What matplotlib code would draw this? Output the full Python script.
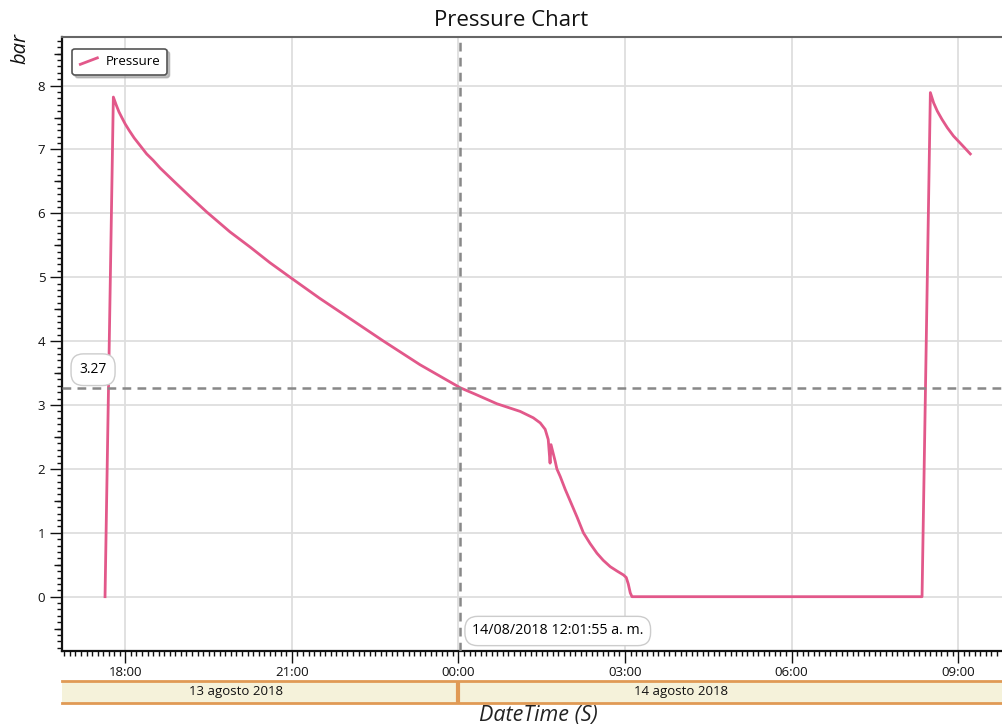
import matplotlib
matplotlib.use("Agg")
import matplotlib.pyplot as plt
import matplotlib.dates as mdates
from matplotlib.ticker import MultipleLocator
from matplotlib.legend_handler import HandlerBase
from matplotlib.lines import Line2D
import pandas as pd
import numpy as np

plt.rcParams['font.family'] = ['Open Sans', 'DejaVu Sans']

# ---- data ----
times = [
    "2018-08-13 17:38:00", "2018-08-13 17:47:00", "2018-08-13 17:50:00", "2018-08-13 17:53:00",
    "2018-08-13 17:56:30", "2018-08-13 17:59:45", "2018-08-13 18:04:00", "2018-08-13 18:09:30",
    "2018-08-13 18:16:00", "2018-08-13 18:23:00", "2018-08-13 18:30:00", "2018-08-13 18:37:30",
    "2018-08-13 18:54:00", "2018-08-13 19:10:00", "2018-08-13 19:28:00", "2018-08-13 19:53:00",
    "2018-08-13 20:15:00", "2018-08-13 20:36:00", "2018-08-13 20:58:00", "2018-08-13 21:30:00",
    "2018-08-13 22:03:00", "2018-08-13 22:39:00", "2018-08-13 23:18:30", "2018-08-14 00:01:55",
    "2018-08-14 00:18:00", "2018-08-14 00:41:30", "2018-08-14 01:06:40", "2018-08-14 01:20:50",
    "2018-08-14 01:28:20", "2018-08-14 01:33:40", "2018-08-14 01:37:00", "2018-08-14 01:39:00",
    "2018-08-14 01:40:00", "2018-08-14 01:44:30", "2018-08-14 01:46:20", "2018-08-14 01:50:00",
    "2018-08-14 01:55:20", "2018-08-14 02:00:40", "2018-08-14 02:08:20", "2018-08-14 02:15:00",
    "2018-08-14 02:22:20", "2018-08-14 02:29:40", "2018-08-14 02:36:25", "2018-08-14 02:44:00",
    "2018-08-14 02:51:30", "2018-08-14 02:58:20", "2018-08-14 03:01:20", "2018-08-14 03:03:30",
    "2018-08-14 03:05:40", "2018-08-14 03:07:30", "2018-08-14 08:21:00", "2018-08-14 08:30:00",
    "2018-08-14 08:33:30", "2018-08-14 08:37:30", "2018-08-14 08:42:35", "2018-08-14 08:48:20",
    "2018-08-14 08:55:00", "2018-08-14 09:03:30", "2018-08-14 09:13:10",
]
pressure = [
    0.00, 7.82, 7.70, 7.59,
    7.49, 7.40, 7.30, 7.18,
    7.06, 6.93, 6.83, 6.71,
    6.48, 6.26, 6.02, 5.71,
    5.47, 5.23, 5.00, 4.67,
    4.35, 4.00, 3.63, 3.27,
    3.17, 3.02, 2.90, 2.80,
    2.72, 2.62, 2.46, 2.09,
    2.38, 2.12, 2.00, 1.88,
    1.68, 1.50, 1.24, 1.00,
    0.83, 0.68, 0.57, 0.47,
    0.40, 0.34, 0.30, 0.20,
    0.06, 0.00, 0.00, 7.89,
    7.73, 7.60, 7.47, 7.34,
    7.21, 7.08, 6.93,
]
cursor_time = "2018-08-14 00:01:55"
cursor_value = 3.27
cursor_label = "14/08/2018 12:01:55 a. m."
day_labels = ["13 agosto 2018", "14 agosto 2018"]
day_label_pos = ["2018-08-13 20:00:00", "2018-08-14 04:00:00"]
day_split = "2018-08-14 00:00:00"
x_start, x_end = "2018-08-13 16:51:30", "2018-08-14 09:48:30"

t = pd.to_datetime(times)
line_color = "#e2588a"


class DiagHandler(HandlerBase):
    def create_artists(self, legend, orig_handle, xdescent, ydescent, width, height, fontsize, trans):
        ln = Line2D([-xdescent + 1, -xdescent + width - 1],
                    [-ydescent + height * 0.1, -ydescent + height * 0.8],
                    color=orig_handle.get_color(), lw=orig_handle.get_linewidth())
        ln.set_transform(trans)
        return [ln]


W, H = 1003, 728
fig = plt.figure(figsize=(W / 100, H / 100), dpi=100)
ax = fig.add_axes([62 / W, 1 - 651 / H, (W - 62) / W, (651 - 37) / H])

line, = ax.plot(t, pressure, color=line_color, lw=2.0, label="Pressure", zorder=3)

ax.set_xlim(pd.Timestamp(x_start), pd.Timestamp(x_end))
ax.set_ylim(-0.85, 8.76)

ax.xaxis.set_major_locator(mdates.HourLocator(byhour=range(0, 24, 3)))
ax.xaxis.set_major_formatter(mdates.DateFormatter("%H:%M"))
ax.xaxis.set_minor_locator(mdates.MinuteLocator(byminute=range(0, 60, 6)))
ax.yaxis.set_major_locator(MultipleLocator(1))
ax.yaxis.set_minor_locator(MultipleLocator(0.1))

ax.grid(True, which='major', color='#dedede', lw=1.3, zorder=0)
ax.tick_params(axis='both', which='major', length=8.5, width=1.0, labelsize=9.5, colors='#111111')
ax.tick_params(axis='both', which='minor', length=3.5, width=1.0, colors='#111111')
ax.tick_params(axis='x', which='major', pad=2)

sec = ax.secondary_yaxis('left')
sec.set_yticks(np.arange(-0.5, 9, 1))
sec.tick_params(length=5.5, width=1.0, labelleft=False, colors='#111111')
sec.spines['left'].set_visible(False)

for s in ['left', 'bottom']:
    ax.spines[s].set_linewidth(1.6)
    ax.spines[s].set_color('#111111')
ax.spines['top'].set_color('#666666')
ax.spines['top'].set_linewidth(1.5)
ax.spines['right'].set_visible(False)

# crosshair
ct = pd.Timestamp(cursor_time)
ax.axvline(ct, color='#888888', lw=1.8, ls=(0, (3.5, 2.5)), zorder=4)
ax.axhline(cursor_value, color='#888888', lw=1.8, ls=(0, (3.5, 2.5)), zorder=4)
ax.annotate(f"{cursor_value:.2f}", xy=(0.033, cursor_value), xycoords=('axes fraction', 'data'),
            xytext=(0, 13), textcoords='offset points', ha='center', va='center', fontsize=10,
            bbox=dict(boxstyle='round,pad=0.6,rounding_size=0.9', fc='white', ec='#cccccc', lw=1), zorder=5)
ax.annotate(cursor_label, xy=(ct, 0), xycoords=('data', 'axes fraction'),
            xytext=(8.5, 14.4), textcoords='offset points', ha='left', va='center', fontsize=10.3,
            bbox=dict(boxstyle='round,pad=0.5,rounding_size=0.9', fc='white', ec='#cccccc', lw=1), zorder=5)

leg = ax.legend(handles=[line], handler_map={Line2D: DiagHandler()},
                loc='upper left', bbox_to_anchor=(0.011, 0.981), borderaxespad=0, fontsize=9.5,
                fancybox=True, shadow={'ox': 2, 'oy': -2, 'color': '#999999', 'alpha': 0.6},
                framealpha=1, edgecolor='#555555',
                handlelength=1.5, handletextpad=0.5, borderpad=0.5)
leg.get_frame().set_linewidth(1.2)

# date band
bax = fig.add_axes([62 / W, 1 - 703 / H, (W - 62) / W, (703 - 681) / H], sharex=ax)
bax.set_facecolor('#f5f2da')
bax.set_ylim(0, 1)
bax.set_yticks([])
bax.tick_params(axis='x', which='both', length=0, labelbottom=False)
for s in ['left', 'right']:
    bax.spines[s].set_visible(False)
for s in ['top', 'bottom']:
    bax.spines[s].set_color('#e09a55')
    bax.spines[s].set_linewidth(2)
bax.axvline(pd.Timestamp(day_split), color='#e09a55', lw=3)
for lab, pos in zip(day_labels, day_label_pos):
    bax.text(pd.Timestamp(pos), 0.5, lab, ha='center', va='center', fontsize=9.5, color='#111111')

fig.text(511 / W, 1 - 21 / H, "Pressure Chart", ha='center', va='center', fontsize=16, color='#111111')
fig.text(20 / W, 1 - 48 / H, "bar", ha='center', va='center', rotation=90, fontsize=14.5,
         style='italic', color='#111111')
fig.text(538 / W, 1 - 715 / H, "DateTime (S)", ha='center', va='center', fontsize=15.5,
         style='italic', color='#222222')

fig.savefig("out.png", dpi=100)
